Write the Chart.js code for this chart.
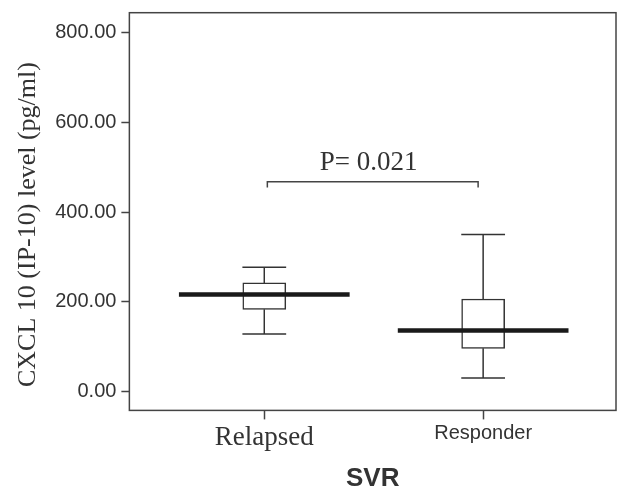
<!DOCTYPE html>
<html>
<head>
<meta charset="utf-8">
<script src="https://cdn.jsdelivr.net/npm/chart.js@4/dist/chart.umd.min.js"></script>
<style>
  html, body { margin: 0; padding: 0; background: #fff; }
  #wrap { width: 617px; height: 491px; }
</style>
</head>
<body>
<div id="wrap"><canvas id="boxChart" width="617" height="491"></canvas></div>
<script>
// values
const categories = ['Relapsed', 'Responder'];
const whiskerLow = [128, 30];
const q1 = [183, 96];
const median = [216, 136];
const q3 = [242, 206];
const whiskerHigh = [277, 350];
const yTicks = [0, 200, 400, 600, 800];
const pLabel = 'P= 0.021';
const bracketY = 468;

const capHalf = 0.1;     // half width of whisker caps (x units)
const medianHalf = 0.39; // half width of the thick median line

// build a polyline made of separate segments, gaps as null
function segments(list) {
    const pts = [];
    list.forEach(function (seg) {
        seg.forEach(function (p) { pts.push({ x: p[0], y: p[1] }); });
        pts.push({ x: seg[seg.length - 1][0], y: null });
    });
    return pts;
}

const whiskerSegs = [];
const medianSegs = [];
categories.forEach(function (c, i) {
    const x = i + 1;
    whiskerSegs.push([[x, q3[i]], [x, whiskerHigh[i]]]);
    whiskerSegs.push([[x - capHalf, whiskerHigh[i]], [x + capHalf, whiskerHigh[i]]]);
    whiskerSegs.push([[x, q1[i]], [x, whiskerLow[i]]]);
    whiskerSegs.push([[x - capHalf, whiskerLow[i]], [x + capHalf, whiskerLow[i]]]);
    medianSegs.push([[x - medianHalf, median[i]], [x + medianHalf, median[i]]]);
});

const bracket = [[1.014, bracketY - 13], [1.014, bracketY], [1.977, bracketY], [1.977, bracketY - 13]];

// frame around the plot and the p-value text
const framePlugin = {
    id: 'frame',
    afterDatasetsDraw(chart) {
        const a = chart.chartArea;
        const ctx = chart.ctx;
        ctx.save();
        ctx.strokeStyle = '#444';
        ctx.lineWidth = 1.5;
        ctx.strokeRect(a.left, a.top, a.right - a.left, a.bottom - a.top);
        ctx.fillStyle = '#333';
        ctx.font = '27px "Liberation Serif"';
        ctx.textAlign = 'center';
        ctx.textBaseline = 'alphabetic';
        const px = (chart.scales.x.getPixelForValue(1.014) + chart.scales.x.getPixelForValue(1.977)) / 2;
        ctx.fillText(pLabel, px - 4, chart.scales.y.getPixelForValue(bracketY) - 12);
        ctx.restore();
    }
};

const ctx = document.getElementById('boxChart').getContext('2d');
new Chart(ctx, {
    data: {
        datasets: [
            {
                type: 'bar',
                order: 4,
                data: categories.map(function (c, i) { return { x: i + 1, y: [q1[i], q3[i]] }; }),
                backgroundColor: '#ffffff',
                borderColor: '#333',
                borderWidth: 1.5,
                borderSkipped: false,
                barThickness: 43
            },
            {
                type: 'line',
                order: 3,
                data: segments(whiskerSegs),
                borderColor: '#333',
                borderWidth: 1.5,
                pointRadius: 0,
                spanGaps: false
            },
            {
                type: 'line',
                order: 1,
                data: segments(medianSegs),
                borderColor: '#1a1a1a',
                borderWidth: 4.5,
                borderCapStyle: 'butt',
                pointRadius: 0,
                spanGaps: false
            },
            {
                type: 'line',
                order: 2,
                data: segments([bracket]),
                borderColor: '#444',
                borderWidth: 1.5,
                pointRadius: 0,
                spanGaps: false
            }
        ]
    },
    options: {
        responsive: false,
        animation: false,
        layout: { padding: { left: 13, right: 1, top: 0, bottom: -3 } },
        plugins: {
            legend: { display: false },
            tooltip: { enabled: false }
        },
        scales: {
            x: {
                type: 'linear',
                min: 0.3836,
                max: 2.607,
                offset: false,
                afterBuildTicks: function (axis) {
                    axis.ticks = categories.map(function (c, i) { return { value: i + 1 }; });
                },
                ticks: {
                    callback: function (v) { return categories[v - 1]; },
                    color: '#333',
                    padding: 2,
                    maxRotation: 0,
                    font: function (c) {
                        return c.index === 0
                            ? { family: '"Liberation Serif"', size: 27 }
                            : { family: '"Liberation Sans"', size: 20 };
                    }
                },
                grid: { offset: false, drawOnChartArea: false, tickLength: 9, tickColor: '#444', tickWidth: 1.5 },
                border: { display: false },
                title: {
                    display: true,
                    text: 'SVR',
                    color: '#333',
                    font: { family: '"Liberation Sans"', size: 26, weight: 'bold' },
                    padding: { top: 7, bottom: 0 }
                }
            },
            y: {
                min: -42.5,
                max: 845,
                afterBuildTicks: function (axis) {
                    axis.ticks = yTicks.map(function (v) { return { value: v }; });
                },
                ticks: {
                    callback: function (v) { return v.toFixed(2); },
                    color: '#333',
                    padding: 5,
                    font: { family: '"Liberation Sans"', size: 20, lineHeight: 0.77 }
                },
                grid: { drawOnChartArea: false, tickLength: 8, tickColor: '#444', tickWidth: 1.5 },
                border: { display: false },
                title: {
                    display: true,
                    text: 'CXCL 10 (IP-10) level (pg/ml)    ',
                    color: '#333',
                    font: { family: '"Liberation Serif"', size: 26 },
                    padding: { top: 0, bottom: 6 }
                }
            }
        }
    },
    plugins: [framePlugin]
});
</script>
</body>
</html>
